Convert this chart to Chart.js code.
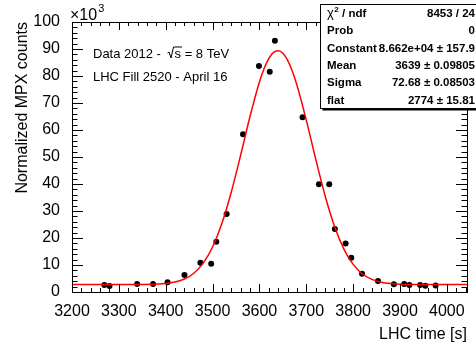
<!DOCTYPE html>
<html>
<head>
<meta charset="utf-8">
<script src="https://cdn.jsdelivr.net/npm/chart.js@4.4.1/dist/chart.umd.min.js"></script>
<style>
  html, body { margin: 0; padding: 0; background: #fff; }
  #wrap { width: 476px; height: 345px; }
</style>
</head>
<body>
<div id="wrap"><canvas id="chart" width="476" height="345"></canvas></div>
<script>
// Measured points: LHC time [s] and counts (units of 10^3)
const timeValues = [3269, 3280, 3339, 3373, 3404, 3440, 3474, 3497, 3508, 3530,
                    3565, 3599, 3622, 3633, 3692, 3727, 3749, 3761, 3784, 3796,
                    3819, 3853, 3887, 3909, 3920, 3943, 3954, 3976];
const countValues = [2.6, 2.2, 3.0, 3.0, 3.6, 6.3, 10.8, 10.5, 18.6, 28.9,
                     58.4, 83.7, 81.6, 93.1, 64.7, 39.9, 39.9, 23.3, 18.0, 12.7,
                     6.8, 4.1, 2.9, 3.0, 2.6, 2.6, 2.3, 2.4];

// Fit curve as drawn in the picture (gaus + flat)
const fitTimes = [3200, 3300, 3350, 3400, 3420, 3440, 3460, 3480, 3500, 3520,
                  3540, 3560, 3580, 3600, 3610, 3620, 3630, 3640, 3650, 3660,
                  3670, 3680, 3700, 3720, 3740, 3760, 3780, 3800, 3820, 3840,
                  3860, 3880, 3900, 3950, 4000, 4043];
const fitValues = [2.77, 2.78, 2.81, 3.16, 3.70, 4.82, 6.95, 10.69, 16.68, 25.45,
                   37.03, 50.75, 65.08, 77.78, 82.77, 86.48, 88.73, 89.39, 88.41, 85.85,
                   81.86, 76.65, 63.68, 49.32, 35.76, 24.44, 15.97, 10.22, 6.67, 4.67,
                   3.62, 3.13, 2.91, 2.78, 2.77, 2.77];

const xTicks = [3200, 3300, 3400, 3500, 3600, 3700, 3800, 3900, 4000];
const yTicks = [0, 10, 20, 30, 40, 50, 60, 70, 80, 90, 100];

const statLabels = ['χ', 'Prob', 'Constant', 'Mean', 'Sigma', 'flat'];
const statValues = ['8453 / 24', '0', '8.662e+04 ± 157.9', '3639 ± 0.09805', '72.68 ± 0.08503', '2774 ± 15.81'];

const FONT = '"Liberation Sans", Arial, Helvetica, sans-serif';

// frame with ticks on all four sides, texts and stats box
const rootStyle = {
    id: 'rootStyle',
    afterDraw(chart) {
        const ctx = chart.ctx;
        const a = chart.chartArea;
        const xs = chart.scales.x, ys = chart.scales.y;
        ctx.save();
        ctx.strokeStyle = '#000';
        ctx.lineWidth = 1;
        ctx.strokeRect(Math.round(a.left) + 0.5, Math.round(a.top) + 0.5,
                       Math.round(a.right - a.left), Math.round(a.bottom - a.top));

        ctx.beginPath();
        for (let v = 3200; v <= 4040; v += 20) {
            const px = Math.round(xs.getPixelForValue(v)) + 0.5;
            const len = (v % 100 === 0) ? 8 : 4;
            ctx.moveTo(px, a.bottom); ctx.lineTo(px, a.bottom - len);
            ctx.moveTo(px, a.top); ctx.lineTo(px, a.top + len);
        }
        for (let v = 0; v <= 100; v += 2) {
            const py = Math.round(ys.getPixelForValue(v)) + 0.5;
            const len = (v % 10 === 0) ? 11 : 5.5;
            ctx.moveTo(a.left, py); ctx.lineTo(a.left + len, py);
            ctx.moveTo(a.right, py); ctx.lineTo(a.right - len, py);
        }
        ctx.stroke();

        ctx.fillStyle = '#000';
        // x10^3
        ctx.font = '16px ' + FONT;
        ctx.textAlign = 'left';
        ctx.textBaseline = 'alphabetic';
        ctx.fillText('×10', 70, 20);
        const w10 = ctx.measureText('×10').width;
        ctx.font = '11px ' + FONT;
        ctx.fillText('3', 70 + w10 + 1, 12);

        // axis titles
        ctx.font = '16px ' + FONT;
        ctx.textAlign = 'right';
        ctx.fillText('LHC time [s]', a.right, 339);
        ctx.save();
        ctx.translate(27, a.top);
        ctx.rotate(-Math.PI / 2);
        ctx.fillText('Normalized MPX counts', 0, 0);
        ctx.restore();

        // labels
        ctx.font = '13px ' + FONT;
        ctx.textAlign = 'left';
        let x = 93;
        const y1 = 58;
        const t1 = 'Data 2012 - ';
        ctx.fillText(t1, x, y1);
        x += ctx.measureText(t1).width + 3;
        const sw = ctx.measureText('s').width;
        ctx.beginPath();
        ctx.lineWidth = 1;
        ctx.moveTo(x, y1 - 5);
        ctx.lineTo(x + 1.5, y1 - 6);
        ctx.lineTo(x + 3.5, y1);
        ctx.lineTo(x + 6, y1 - 11);
        ctx.lineTo(x + 7 + sw + 1, y1 - 11);
        ctx.stroke();
        ctx.fillText('s', x + 7, y1);
        x += 7 + sw;
        ctx.fillText(' = 8 TeV', x, y1);
        ctx.fillText('LHC Fill 2520 - April 16', 93, 81);

        // stats box
        const bx = 320.5, by = 4.5, bw = 160, bh = 104;
        ctx.fillStyle = '#fff';
        ctx.fillRect(bx, by, bw, bh);
        ctx.strokeRect(bx, by, bw, bh);
        ctx.fillStyle = '#000';
        ctx.fillRect(bx + 2, by + bh, bw, 2);
        const rowH = bh / statLabels.length;
        ctx.textBaseline = 'middle';
        statLabels.forEach((lab, i) => {
            const ry = by + rowH * (i + 0.5) + 0.5;
            ctx.font = 'bold 11.5px ' + FONT;
            ctx.textAlign = 'left';
            if (i === 0) {
                ctx.font = '13px ' + FONT;
                ctx.fillText('χ', 327, ry);
                const cw = ctx.measureText('χ').width;
                ctx.font = 'bold 8px ' + FONT;
                ctx.fillText('2', 327 + cw + 0.5, ry - 4);
                ctx.font = 'bold 11.5px ' + FONT;
                ctx.fillText(' / ndf', 327 + cw + 5, ry);
            } else {
                ctx.fillText(lab, 327, ry);
            }
            ctx.textAlign = 'right';
            ctx.fillText(statValues[i], 475, ry);
        });
        ctx.restore();
    }
};

const ctx = document.getElementById('chart').getContext('2d');
new Chart(ctx, {
    type: 'scatter',
    data: {
        datasets: [
            {
                type: 'line',
                data: fitTimes.map((t, i) => ({ x: t, y: fitValues[i] })),
                borderColor: '#ff0000',
                borderWidth: 1.5,
                pointRadius: 0,
                cubicInterpolationMode: 'monotone',
                fill: false,
                order: 0
            },
            {
                data: timeValues.map((t, i) => ({ x: t, y: countValues[i] })),
                backgroundColor: '#000',
                borderWidth: 0,
                pointRadius: 3,
                order: 1
            }
        ]
    },
    options: {
        responsive: false,
        animation: false,
        devicePixelRatio: 1,
        layout: { padding: { left: 0, right: 9, top: 22, bottom: 0 } },
        plugins: { legend: { display: false }, tooltip: { enabled: false } },
        scales: {
            x: {
                type: 'linear',
                min: 3200,
                max: 4043,
                afterBuildTicks: s => { s.ticks = xTicks.map(v => ({ value: v })); },
                afterFit: s => { s.height = 53; },
                grid: { display: false },
                border: { display: false },
                ticks: {
                    color: '#000',
                    font: { family: FONT, size: 16 },
                    padding: 2,
                    maxRotation: 0,
                    autoSkip: false,
                    callback: v => String(v)
                }
            },
            y: {
                min: 0,
                max: 100,
                afterBuildTicks: s => { s.ticks = yTicks.map(v => ({ value: v })); },
                afterFit: s => { s.width = 72; },
                grid: { display: false },
                border: { display: false },
                ticks: {
                    color: '#000',
                    font: { family: FONT, size: 16 },
                    padding: 4,
                    autoSkip: false,
                    callback: v => String(v)
                }
            }
        }
    },
    plugins: [rootStyle]
});
</script>
</body>
</html>
